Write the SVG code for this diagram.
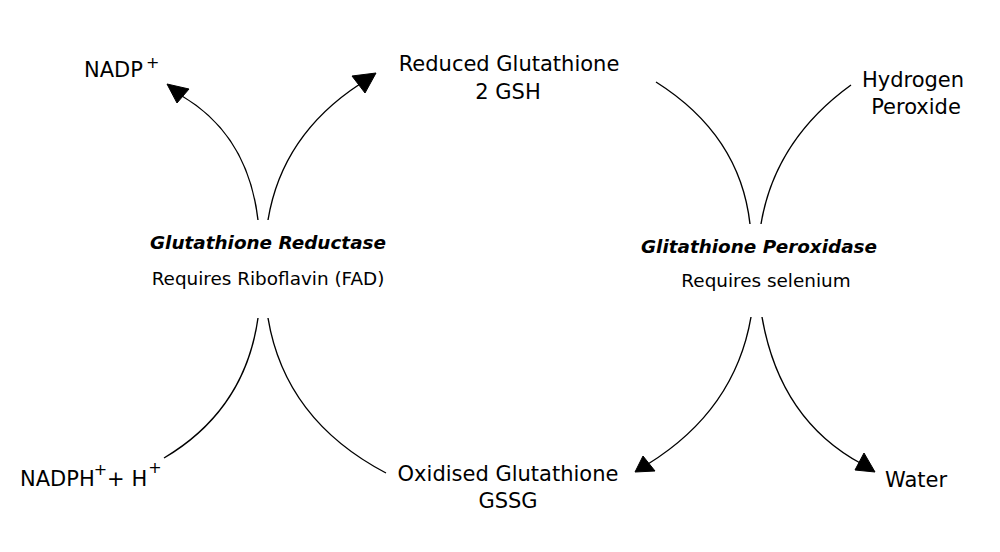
<svg xmlns="http://www.w3.org/2000/svg" width="1000" height="552" viewBox="0 0 1000 552">
<style>
text{font-family:"DejaVu Sans","Noto Sans",sans-serif;fill:#000}
.lbl{font-size:21px}
.sup{font-size:16px}
.enz{font-size:18.4px;font-weight:bold;font-style:italic}
.req{font-size:18.4px}
.c{fill:none;stroke:#000;stroke-width:1.4}
.ah{fill:#000;stroke:#000;stroke-width:1}
</style>
<rect width="1000" height="552" fill="#fff"/>
<g id="connectors">
<path class="c" d="M258,220 Q248,135 182,96"/>
<polygon class="ah" points="167,84 189,89 177,103"/>
<path class="c" d="M268,220 Q282,135 360,84"/>
<polygon class="ah" points="376,73 352,76 365,93"/>
<path class="c" d="M656,82 Q740,135 750,224"/>
<path class="c" d="M851,85 Q775,140 761,224"/>
<path class="c" d="M258,318 Q245,410 164,458"/>
<path class="c" d="M268,318 Q285,420 386,473"/>
<path class="c" d="M751,317 Q735,410 648,464"/>
<polygon class="ah" points="635,472 655,471 643,456"/>
<path class="c" d="M762,317 Q780,420 862,464"/>
<polygon class="ah" points="875,472 855,470 864,453"/>
</g>
<g id="nadp"><text class="lbl" x="84" y="77">NADP<tspan class="sup" dx="3" dy="-9">+</tspan></text></g>
<g id="gsh"><text class="lbl" x="509" y="71" text-anchor="middle">Reduced Glutathione</text><text class="lbl" x="508" y="99" text-anchor="middle">2 GSH</text></g>
<g id="h2o2"><text class="lbl" x="913" y="87" text-anchor="middle">Hydrogen</text><text class="lbl" x="916" y="114" text-anchor="middle">Peroxide</text></g>
<g id="reductase"><text class="enz" x="268" y="249" text-anchor="middle">Glutathione Reductase</text><text class="req" x="268" y="285" text-anchor="middle">Requires Riboflavin (FAD)</text></g>
<g id="peroxidase"><text class="enz" x="759" y="253" text-anchor="middle">Glitathione Peroxidase</text><text class="req" x="766" y="287" text-anchor="middle">Requires selenium</text></g>
<g id="nadph"><text class="lbl" x="20" y="486">NADPH<tspan class="sup" dx="-1" dy="-11">+</tspan><tspan dy="11">+ H</tspan><tspan class="sup" dx="1" dy="-13">+</tspan></text></g>
<g id="gssg"><text class="lbl" x="508" y="481" text-anchor="middle">Oxidised Glutathione</text><text class="lbl" x="508" y="508" text-anchor="middle">GSSG</text></g>
<g id="water"><text class="lbl" x="885" y="487">Water</text></g>
</svg>
